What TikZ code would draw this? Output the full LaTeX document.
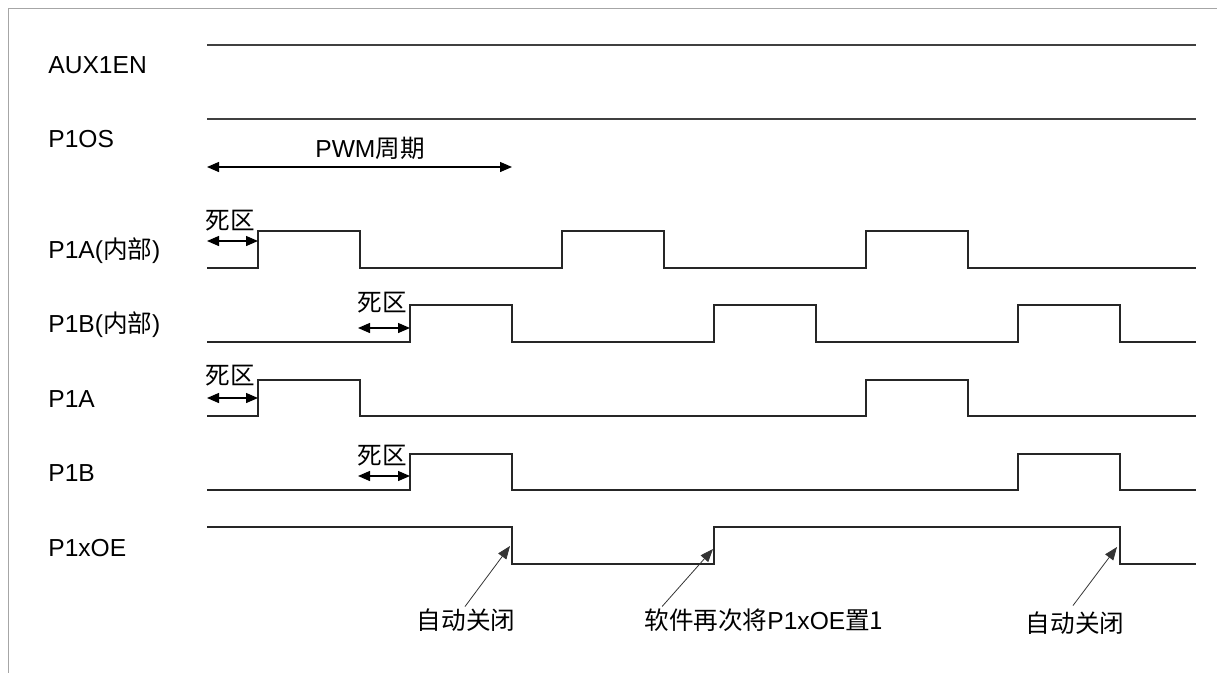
\documentclass[tikz,border=0pt]{standalone}
\usepackage{fontspec}
\setmainfont{Liberation Sans}
\newfontfamily\cjk{Noto Sans CJK SC}
\usetikzlibrary{arrows.meta}

\begin{document}
\begin{tikzpicture}[
  x=0.02cm, y=-0.02cm,
  >={Triangle[length=2.4mm, width=2mm]},
  sig/.style={line width=0.7pt, black!85},
  base/.style={line width=0.7pt, black!75},
  span/.style={<->, line width=0.75pt, black},
  note/.style={-{Triangle[length=2.6mm, width=2mm]}, line width=0.45pt, black!80},
  lbl/.style={anchor=west, font=\fontsize{14}{16}\selectfont, inner sep=0pt},
  txt/.style={font=\fontsize{14}{16}\selectfont\cjk, inner sep=1pt}
]
\useasboundingbox (0,0) rectangle (1217,673);

% --- Moldura ---
\draw[gray!70, line width=0.5pt] (1217,8) -- (8,8) -- (8,673);

% --- Nomes dos sinais ---
\node[lbl] (nAux) at (48,65)  {AUX1EN};
\node[lbl] (nOS)  at (48,139) {P1OS};
\node[lbl] (nAi)  at (48,251) {P1A({\cjk 内部})};
\node[lbl] (nBi)  at (48,325) {P1B({\cjk 内部})};
\node[lbl] (nA)   at (48,399) {P1A};
\node[lbl] (nB)   at (48,473) {P1B};
\node[lbl] (nOE)  at (48,548) {P1xOE};

% --- AUX1EN e P1OS ---
\draw[base] (207,45)  -- (1196,45);
\draw[base] (207,119) -- (1196,119);

% --- Periodo PWM ---
\coordinate (pwmL) at (207,167);
\coordinate (pwmR) at (512,167);
\draw[span] (pwmL) -- (pwmR);
\node[font=\fontsize{14}{16}\selectfont, inner sep=1pt] (pwm) at (370,148) {PWM{\cjk 周期}};

% --- P1A (interno) ---
\draw[sig] (207,268) -- (258,268) -- (258,231) -- (360,231) -- (360,268)
  -- (562,268) -- (562,231) -- (664,231) -- (664,268)
  -- (866,268) -- (866,231) -- (968,231) -- (968,268) -- (1196,268);

% --- P1B (interno) ---
\draw[sig] (207,342) -- (410,342) -- (410,305) -- (512,305) -- (512,342)
  -- (714,342) -- (714,305) -- (816,305) -- (816,342)
  -- (1018,342) -- (1018,305) -- (1120,305) -- (1120,342) -- (1196,342);

% --- P1A ---
\draw[sig] (207,416) -- (258,416) -- (258,380) -- (360,380) -- (360,416)
  -- (866,416) -- (866,380) -- (968,380) -- (968,416) -- (1196,416);

% --- P1B ---
\draw[sig] (207,490) -- (410,490) -- (410,454) -- (512,454) -- (512,490)
  -- (1018,490) -- (1018,454) -- (1120,454) -- (1120,490) -- (1196,490);

% --- P1xOE ---
\draw[sig] (207,527) -- (512,527) -- (512,564) -- (714,564) -- (714,527)
  -- (1120,527) -- (1120,564) -- (1196,564);

% --- Zonas mortas ---
\foreach \nm/\xa/\xb/\ya/\yt in {dz1/207/258/241/221, dz2/358/410/328/303,
                                  dz3/207/258/398/376, dz4/358/410/476/456}{
  \coordinate (\nm L) at (\xa,\ya);
  \coordinate (\nm R) at (\xb,\ya);
  \draw[span] (\nm L) -- (\nm R);
  \node[txt] (\nm T) at ({(\xa+\xb)/2-2},\yt) {死区};
}

% --- Anotacoes P1xOE ---
\node[txt] (off1) at (466,620) {自动关闭};
\node[txt] (soft) at (764,620) {软件再次将{\rmfamily P1xOE}置1};
\node[txt] (off2) at (1075,623) {自动关闭};

\coordinate (tip1) at (510,546);
\coordinate (tip2) at (713,549);
\coordinate (tip3) at (1117,547);

\draw[note] (off1.north) ++(-1,0) -- (tip1);
\draw[note] ([xshift=25\pgflinewidth]soft.north west) ++(0,0) -- (tip2);
\draw[note] (off2.north) ++(-2,-4) -- (tip3);

\end{tikzpicture}
\end{document}
